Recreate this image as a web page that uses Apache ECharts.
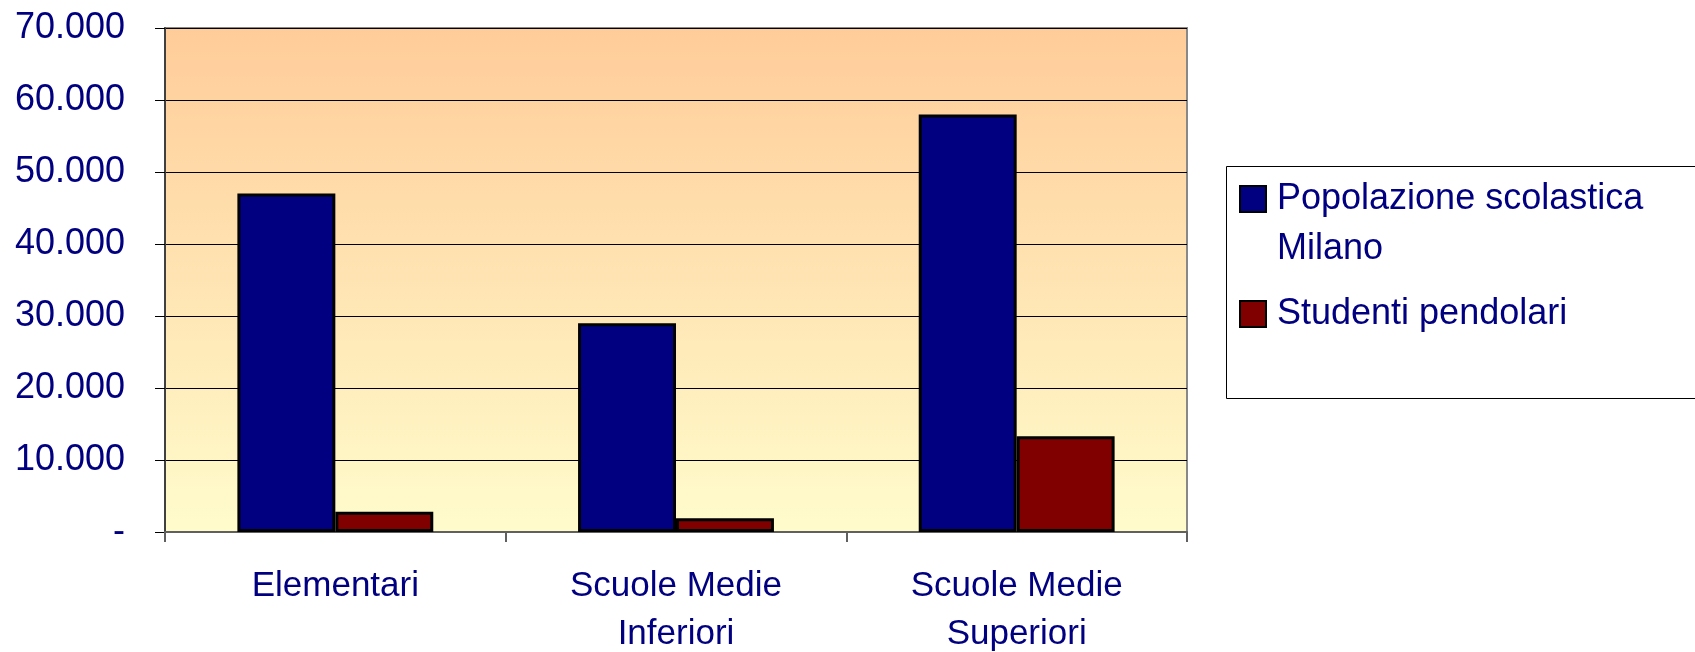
<!DOCTYPE html>
<html>
<head>
<meta charset="utf-8">
<script src="https://cdn.jsdelivr.net/npm/echarts@6/dist/echarts.min.js"></script>
<style>
  html, body { margin: 0; padding: 0; background: #fff; }
  #chart { width: 1695px; height: 652px; }
</style>
</head>
<body>
<div id="chart"></div>
<script>
const categories = ['Elementari', 'Scuole Medie\nInferiori', 'Scuole Medie\nSuperiori']
const popolazione = [47000, 29000, 58000]
const pendolari = [2800, 1900, 13300]
const seriesNames = ['Popolazione scolastica Milano', 'Studenti pendolari']

const navy = '#000080'
const font = 'Liberation Sans, Arial, sans-serif'

const chart = echarts.init(document.getElementById('chart'))

chart.setOption({
  animation: false,
  grid: {
    left: 165,
    right: 508,
    top: 28,
    bottom: 120,
    outerBoundsMode: 'none',
    show: true,
    borderColor: '#888',
    borderWidth: 2,
    backgroundColor: new echarts.graphic.LinearGradient(0, 0, 0, 1, [
      { offset: 0, color: '#ffcc99' },
      { offset: 1, color: '#fffccc' }
    ])
  },
  legend: {
    orient: 'vertical',
    left: 1239,
    top: 124,
    padding: 0,
    itemGap: 15,
    itemWidth: 26,
    itemHeight: 26,
    icon: 'rect',
    itemStyle: { borderColor: '#000', borderWidth: 2 },
    textStyle: {
      fontFamily: font,
      fontSize: 36,
      color: navy,
      lineHeight: 50,
      padding: [0, 0, 0, 6]
    },
    formatter: function(name) {
      // blank first line keeps the marker level with the first text line
      if (name === seriesNames[0]) {
        return '\nPopolazione scolastica\nMilano'
      }
      return name
    },
    data: seriesNames
  },
  graphic: [
    {
      type: 'rect',
      left: 1224,
      top: 164,
      shape: { width: 600, height: 232 },
      style: { fill: 'none', stroke: '#000', lineWidth: 1 },
      silent: true
    }
  ],
  xAxis: {
    type: 'category',
    data: categories,
    axisLine: { lineStyle: { color: '#606060', width: 2 } },
    axisTick: { show: true, length: 10, lineStyle: { color: '#606060', width: 2 } },
    axisLabel: {
      margin: 30,
      fontFamily: font,
      fontSize: 35,
      color: navy,
      lineHeight: 48
    }
  },
  yAxis: {
    type: 'value',
    min: 0,
    max: 70000,
    interval: 10000,
    axisLine: { show: true, lineStyle: { color: '#404040', width: 2 } },
    axisTick: { show: true, length: 10, lineStyle: { color: '#000', width: 1 } },
    splitLine: { show: true, lineStyle: { color: '#000', width: 1 } },
    axisLabel: {
      margin: 40,
      fontFamily: font,
      fontSize: 36,
      color: navy,
      formatter: function(v) {
        if (v === 0) {
          return '-'
        }
        return (v / 1000).toFixed(0) + '.000'
      }
    }
  },
  series: [
    {
      name: seriesNames[0],
      type: 'bar',
      data: popolazione,
      barGap: '0%',
      barCategoryGap: '42.5%',
      itemStyle: { color: navy, borderColor: '#000', borderWidth: 3 }
    },
    {
      name: seriesNames[1],
      type: 'bar',
      data: pendolari,
      itemStyle: { color: '#800000', borderColor: '#000', borderWidth: 3 }
    }
  ]
})
</script>
</body>
</html>
